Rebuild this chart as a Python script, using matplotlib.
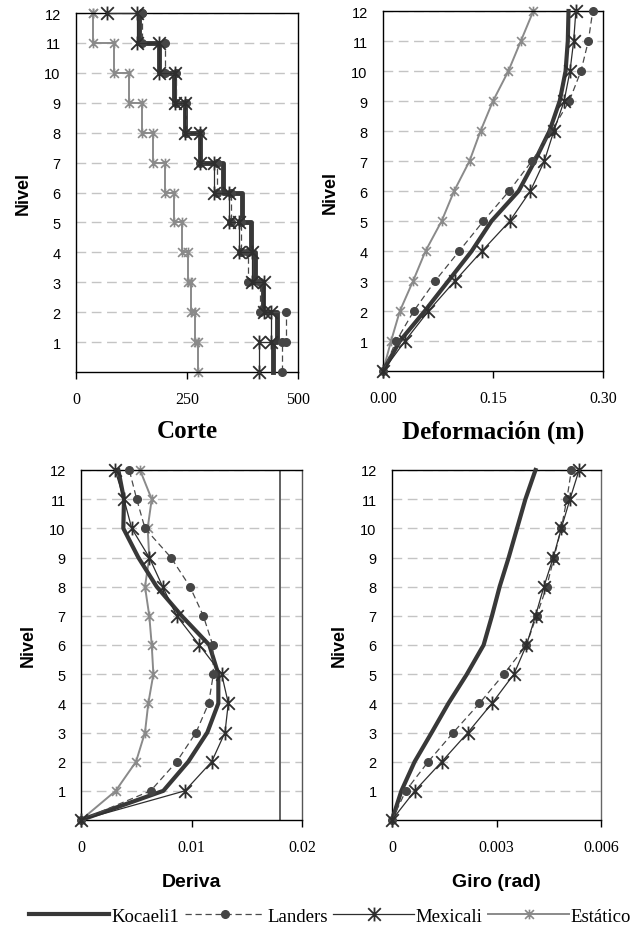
import matplotlib
matplotlib.use("Agg")
import matplotlib.pyplot as plt
from matplotlib.path import Path
from matplotlib.lines import Line2D

# ---------------- data ----------------
niveles = list(range(0, 13))          # 0 .. 12
pisos = list(range(12, 0, -1))        # stories 12 .. 1

# Shear per story (stories 12 -> 1) and value at roof start
corte_kocaeli = [142, 188, 220, 245, 279, 330, 374, 395, 403, 421, 453, 444]
corte_landers = [148, 200, 226, 247, 279, 318, 348, 372, 388, 414, 473, 465]
corte_mexicali = [137, 188, 222, 245, 279, 311, 345, 366, 397, 424, 439, 413]
corte_estatico = [39, 86, 120, 148, 174, 200, 221, 238, 253, 259, 268, 275]
corte_inicio = {"Kocaeli1": 142, "Landers": 148, "Mexicali": 69, "Estático": 39}

# Lateral displacement per level (0 .. 12), m
def_kocaeli = [0, 0.023, 0.057, 0.089, 0.121, 0.148, 0.185, 0.207, 0.227, 0.241, 0.249, 0.252, 0.253]
def_landers = [0, 0.018, 0.042, 0.071, 0.104, 0.137, 0.172, 0.203, 0.230, 0.254, 0.270, 0.280, 0.286]
def_mexicali = [0, 0.030, 0.062, 0.098, 0.135, 0.173, 0.201, 0.220, 0.233, 0.247, 0.255, 0.260, 0.263]
def_estatico = [0, 0.011, 0.023, 0.041, 0.058, 0.080, 0.097, 0.118, 0.133, 0.150, 0.171, 0.188, 0.205]

# Interstory drift per level (0 .. 12)
der_kocaeli = [0, 0.00745, 0.00971, 0.01143, 0.01243, 0.01243, 0.01161, 0.00911, 0.00685, 0.00519, 0.00383, 0.00389, 0.00338]
der_landers = [0, 0.0063, 0.00866, 0.01041, 0.01155, 0.01198, 0.01192, 0.01107, 0.00986, 0.00814, 0.00579, 0.00504, 0.00437]
der_mexicali = [0, 0.00941, 0.01183, 0.01303, 0.01333, 0.01273, 0.01071, 0.00866, 0.00739, 0.00618, 0.00459, 0.00389, 0.00308]
der_estatico = [0, 0.00314, 0.00498, 0.00579, 0.00609, 0.00655, 0.0064, 0.00618, 0.00579, 0.00618, 0.00603, 0.0064, 0.00534]
deriva_limite = 0.018

# Rotation per level (0 .. 12), rad
giro_kocaeli = [0, 0.00027, 0.00065, 0.00114, 0.00162, 0.00215, 0.00263, 0.00287, 0.00309, 0.00335, 0.00359, 0.00383, 0.00412]
giro_landers = [0, 0.000395, 0.00104, 0.00176, 0.00251, 0.00321, 0.00386, 0.00415, 0.00444, 0.00465, 0.00486, 0.00502, 0.00515]
giro_mexicali = [0, 0.000655, 0.00143, 0.00218, 0.00287, 0.0035, 0.00386, 0.00412, 0.00436, 0.00463, 0.00486, 0.00511, 0.00537]

series = ["Kocaeli1", "Landers", "Mexicali", "Estático"]

# ---------------- styles ----------------
asterisco = Path([(-1, -1), (1, 1), (-1, 1), (1, -1), (0, -1.1), (0, 1.1)],
                 [Path.MOVETO, Path.LINETO, Path.MOVETO, Path.LINETO, Path.MOVETO, Path.LINETO])

estilos = {
    "Kocaeli1": dict(color="#383838", lw=3.0, zorder=3),
    "Landers": dict(color="#4a4a4a", lw=0.9, ls=(0, (5, 3)), marker="o", ms=5.5,
                    mfc="#454545", mec="#454545", zorder=4),
    "Mexicali": dict(color="#2e2e2e", lw=0.9, marker=asterisco, ms=10, mew=1.3, zorder=5),
    "Estático": dict(color="#8a8a8a", lw=1.4, marker=asterisco, ms=7, mew=1.2, zorder=2),
}
orden = ["Estático", "Kocaeli1", "Landers", "Mexicali"]

SANS = "Liberation Sans"
SERIF = "Liberation Serif"

W, H = 640, 928
fig = plt.figure(figsize=(W / 100, H / 100), dpi=100)


def add_ax(l, t, r, b):
    return fig.add_axes([l / W, 1 - b / H, (r - l) / W, (b - t) / H])


def preparar(ax, xlim, xticks, xfmt):
    ax.set_ylim(0, 12)
    ax.set_xlim(*xlim)
    ax.set_yticks(range(1, 13))
    ax.set_yticklabels([str(i) for i in range(1, 13)], fontfamily=SANS, fontsize=10.5)
    ax.set_xticks(xticks)
    ax.set_xticklabels([xfmt(v) for v in xticks], fontfamily=SERIF, fontsize=11.5)
    ax.tick_params(axis="y", length=0, pad=11)
    ax.tick_params(axis="x", direction="out", length=5, width=1, pad=9)
    ax.yaxis.grid(True, color="#c4c4c4", lw=1.0, ls=(0, (7, 4)))
    ax.set_axisbelow(True)
    for s in ax.spines.values():
        s.set_linewidth(1.0)
        s.set_color("black")
    ax.set_ylabel("Nivel", fontfamily=SANS, fontsize=13, fontweight="bold", labelpad=9)


def paso(inicio, valores):
    xs, ys = [inicio], [12]
    for v, p in zip(valores, pisos):
        xs += [v, v]
        ys += [p, p - 1]
    return xs, ys


# ---- Corte ----
ax1 = add_ax(76, 14, 298, 373)
preparar(ax1, (0, 500), [0, 250, 500], lambda v: f"{v:g}")
cortes = {"Kocaeli1": corte_kocaeli, "Landers": corte_landers,
          "Mexicali": corte_mexicali, "Estático": corte_estatico}
for s in orden:
    st = dict(estilos[s])
    if s == "Kocaeli1":
        st["lw"] = 3.5
    xs, ys = paso(corte_inicio[s], cortes[s])
    ax1.plot(xs, ys, clip_on=False, **st)

# ---- Deformación ----
ax2 = add_ax(383, 12, 603, 372)
preparar(ax2, (0, 0.30), [0, 0.15, 0.30], lambda v: f"{v:.2f}")
defs = {"Kocaeli1": def_kocaeli, "Landers": def_landers,
        "Mexicali": def_mexicali, "Estático": def_estatico}
for s in orden:
    ax2.plot(defs[s], niveles, clip_on=False, **estilos[s])

# ---- Deriva ----
ax3 = add_ax(81, 471, 302, 821)
preparar(ax3, (0, 0.02), [0, 0.01, 0.02], lambda v: f"{v:g}")
ders = {"Kocaeli1": der_kocaeli, "Landers": der_landers,
        "Mexicali": der_mexicali, "Estático": der_estatico}
for s in orden:
    ax3.plot(ders[s], niveles, clip_on=False, **estilos[s])
ax3.axvline(deriva_limite, color="#555555", lw=1.3, zorder=1)
ax3.spines["right"].set_color("#555555")

# ---- Giro ----
ax4 = add_ax(392, 471, 601, 821)
preparar(ax4, (0, 0.006), [0, 0.003, 0.006], lambda v: f"{v:g}")
giros = {"Kocaeli1": giro_kocaeli, "Landers": giro_landers, "Mexicali": giro_mexicali}
for s in ["Kocaeli1", "Landers", "Mexicali"]:
    ax4.plot(giros[s], niveles, clip_on=False, **estilos[s])
ax4.spines["right"].set_color("#666666")

# ---- titles ----
fig.text((76 + 298) / 2 / W, 1 - 432 / H, "Corte", ha="center", va="center",
         fontfamily=SERIF, fontsize=18, fontweight="bold")
fig.text((383 + 603) / 2 / W, 1 - 432 / H, "Deformación (m)", ha="center", va="center",
         fontfamily=SERIF, fontsize=18, fontweight="bold")
fig.text((81 + 302) / 2 / W, 1 - 883 / H, "Deriva", ha="center", va="center",
         fontfamily=SANS, fontsize=14, fontweight="bold")
fig.text((392 + 601) / 2 / W, 1 - 883 / H, "Giro (rad)", ha="center", va="center",
         fontfamily=SANS, fontsize=14, fontweight="bold")

# ---- legend ----
manijas = []
for s in series:
    st = dict(estilos[s])
    st.pop("zorder", None)
    manijas.append(Line2D([], [], **st))
fig.legend(manijas, series, loc="center", bbox_to_anchor=(330 / W, 1 - 917 / H), ncol=4,
           frameon=False, prop={"family": SERIF, "size": 13.5}, handlelength=4.3,
           handletextpad=0.1, columnspacing=0.3, borderaxespad=0)

fig.savefig("out.png", dpi=100)
